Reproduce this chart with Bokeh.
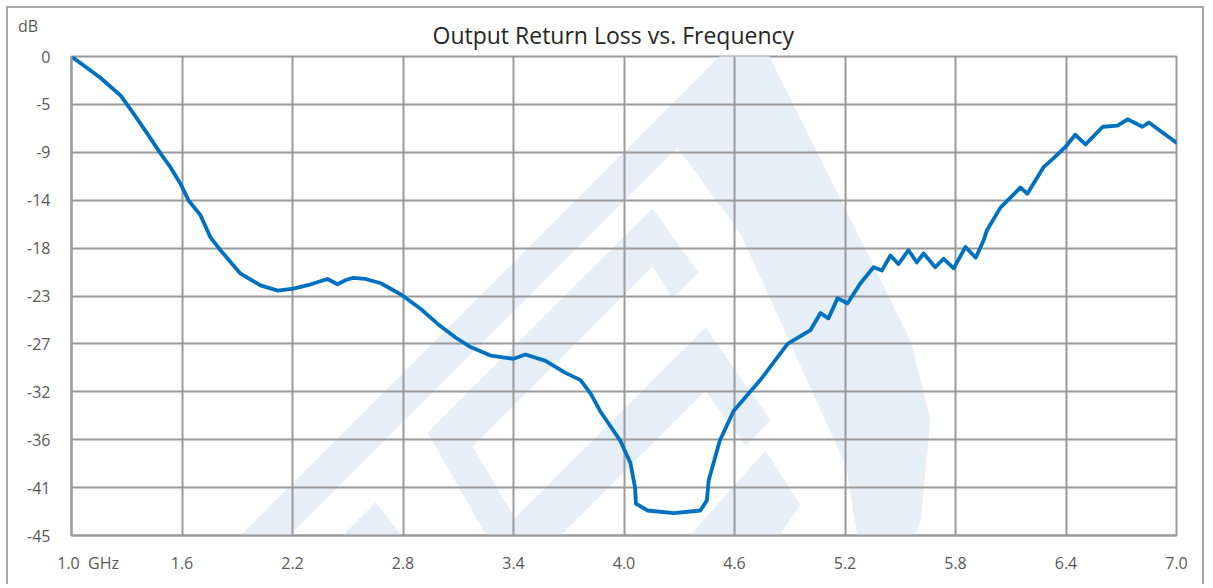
from bokeh.plotting import figure
from bokeh.models import FixedTicker, CustomJSTickFormatter, Range1d
from bokeh.embed import file_html
from bokeh.resources import INLINE

# ---------------- data ----------------
freq_ghz = [1.0, 1.157, 1.266, 1.337, 1.41, 1.483, 1.537, 1.59, 1.635, 1.70, 1.755,
            1.809, 1.918, 2.026, 2.12, 2.205, 2.30, 2.39, 2.444, 2.49, 2.53, 2.596,
            2.68, 2.797, 2.895, 2.987, 3.085, 3.167, 3.275, 3.40, 3.465, 3.574, 3.68,
            3.764, 3.82, 3.87, 3.98, 4.035, 4.06, 4.065, 4.127, 4.27, 4.415, 4.45,
            4.46, 4.52, 4.595, 4.74, 4.888, 5.013, 5.067, 5.11, 5.16, 5.213, 5.284,
            5.355, 5.40, 5.447, 5.49, 5.545, 5.59, 5.627, 5.69, 5.735, 5.79, 5.854,
            5.91, 5.952, 5.97, 6.044, 6.153, 6.19, 6.278, 6.33, 6.397, 6.45, 6.506,
            6.6, 6.68, 6.734, 6.815, 6.85, 7.0]
loss_db = [0.0, -2.0, -3.66, -5.36, -7.2, -9.1, -10.4, -11.9, -13.5, -14.9, -17.0,
           -18.2, -20.4, -21.5, -22.0, -21.8, -21.4, -20.9, -21.4, -21.0, -20.8, -20.9,
           -21.3, -22.45, -23.7, -25.1, -26.4, -27.3, -28.1, -28.4, -28.0, -28.6, -29.7,
           -30.4, -31.7, -33.3, -36.1, -38.2, -40.5, -42.0, -42.65, -42.9, -42.65, -41.7,
           -39.8, -36.1, -33.3, -30.4, -27.0, -25.7, -24.1, -24.6, -22.7, -23.2, -21.3,
           -19.8, -20.1, -18.7, -19.5, -18.2, -19.35, -18.5, -19.8, -19.0, -19.9, -17.9,
           -18.9, -17.3, -16.35, -14.2, -12.3, -12.9, -10.4, -9.6, -8.5, -7.35, -8.25,
           -6.6, -6.5, -5.9, -6.6, -6.2, -8.1]

x_ticks = [1.0, 1.6, 2.2, 2.8, 3.4, 4.0, 4.6, 5.2, 5.8, 6.4, 7.0]
x_tick_labels = ["1.0", "1.6", "2.2", "2.8", "3.4", "4.0", "4.6", "5.2", "5.8", "6.4", "7.0"]
y_ticks = [0.0, -4.5, -9.0, -13.5, -18.0, -22.5, -27.0, -31.5, -36.0, -40.5, -45.0]
y_tick_labels = ["0", "-5", "-9", "-14", "-18", "-23", "-27", "-32", "-36", "-41", "-45"]

title_text = "Output Return Loss vs. Frequency"
y_unit = "dB"
x_unit = "GHz"

# ---------------- decorative watermark (page pixel outlines) ----------------
watermark_px = [
    [(187, 588), (727, 48), (765, 48), (910, 340), (930, 420), (920, 520), (895, 588),
     (865, 588), (846, 467), (799, 363), (740, 233), (677, 147), (236, 588)],
    [(427, 432), (652, 208), (698, 272), (672, 298), (652, 266), (472, 446),
     (556, 588), (516, 588)],
    [(705, 327), (770, 420), (745, 445), (705, 390), (507, 588), (444, 588)],
    [(289, 588), (375, 502), (425, 565), (405, 588), (375, 552), (340, 588)],
    [(642, 588), (765, 450), (800, 505), (740, 588)],
]

FONT = "Open Sans"
GRID = "#9a9a9a"
TXT = "#595959"
NB = "\u00a0"

# page geometry
CX0, CY0 = 8.0, 8.0                               # canvas origin on the page
FX0, FX1, FY0, FY1 = 71.0, 1176.0, 56.0, 535.0    # frame on the page
W, H = 1198, 578


def px_to_x(px):
    return x_ticks[0] + (px - FX0) * (x_ticks[-1] - x_ticks[0]) / (FX1 - FX0)


def py_to_y(py):
    return y_ticks[0] - (py - FY0) * (y_ticks[0] - y_ticks[-1]) / (FY1 - FY0)


p = figure(width=W, height=H, output_backend="svg", toolbar_location=None,
           x_range=Range1d(x_ticks[0], x_ticks[-1]), y_range=Range1d(y_ticks[-1], y_ticks[0]),
           min_border_left=int(FX0 - CX0), min_border_right=int(CX0 + W - FX1),
           min_border_top=int(FY0 - CY0), min_border_bottom=int(CY0 + H - FY1),
           background_fill_color="white", border_fill_color="white")
p.styles = {"margin-left": "6px", "margin-top": "6px",
            "border-top": "2px solid #a6a6a6", "border-left": "2px solid #a6a6a6",
            "border-right": "2px solid #a6a6a6"}

# title
p.title.text = title_text
p.title.align = "left"
p.title.offset = 361
p.title.standoff = 12
p.title.text_font = FONT
p.title.text_font_size = "23px"
p.title.text_font_style = "normal"
p.title.text_color = "#262626"

# watermark
xs = [[px_to_x(a) for a, b in poly] for poly in watermark_px]
ys = [[py_to_y(b) for a, b in poly] for poly in watermark_px]
wm = p.patches(xs, ys, fill_color="#e6eef7", line_color=None)
wm.level = "image"

# grid / frame
p.outline_line_color = GRID
p.outline_line_width = 2
p.xgrid.ticker = FixedTicker(ticks=x_ticks)
p.ygrid.ticker = FixedTicker(ticks=y_ticks)
for g in (p.xgrid, p.ygrid):
    g.grid_line_color = GRID
    g.grid_line_width = 2

p.xaxis.ticker = FixedTicker(ticks=x_ticks)
p.xaxis.formatter = CustomJSTickFormatter(
    args=dict(tick_values=x_ticks, tick_labels=x_tick_labels, unit=x_unit,
              pad=NB * 8, gap=NB * 2),
    code="""
const i = tick_values.findIndex(t => Math.abs(t - tick) < 1e-6);
if (i < 0) return '';
return i == 0 ? pad + tick_labels[i] + gap + unit : tick_labels[i];
""")
p.yaxis.ticker = FixedTicker(ticks=y_ticks)
p.yaxis.formatter = CustomJSTickFormatter(
    args=dict(tick_values=y_ticks, tick_labels=y_tick_labels, unit=y_unit,
              tail=NB * 3, blank=NB),
    code="""
const i = tick_values.findIndex(t => Math.abs(t - tick) < 1e-6);
if (i < 0) return '';
return i == 0 ? unit + tail + '\\n' + tick_labels[i] + '\\n' + blank : tick_labels[i];
""")

for ax in (p.xaxis, p.yaxis):
    ax.axis_line_color = GRID
    ax.axis_line_width = 2
    ax.major_tick_line_color = None
    ax.minor_tick_line_color = None
    ax.major_label_text_font = FONT
    ax.major_label_text_font_size = "16px"
    ax.major_label_text_color = TXT
p.yaxis.major_label_text_line_height = 1.38
p.xaxis.major_label_standoff = 10
p.yaxis.major_label_standoff = 15

# series
p.line(freq_ghz, loss_db, line_color="#0070c0", line_width=3.8,
       line_join="round", line_cap="round")

open("out.html", "w").write(file_html(p, INLINE))
